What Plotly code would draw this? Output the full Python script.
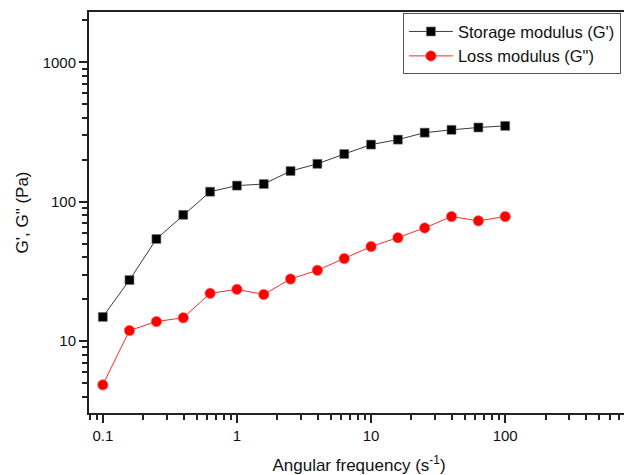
import plotly.graph_objects as go

freq = [0.1, 0.158, 0.251, 0.398, 0.631, 1.0, 1.585, 2.51, 3.98, 6.31,
        10.0, 15.85, 25.1, 39.8, 63.1, 100.0]
storage = [14.9, 27.4, 54.0, 80.5, 118, 130.5, 134, 166, 187, 220,
           257, 279, 313, 328, 341, 350]
loss = [4.85, 11.9, 13.8, 14.7, 22.0, 23.5, 21.6, 27.9, 32.2, 39.1,
        47.7, 55.2, 64.9, 78.3, 72.9, 78.3]

x_major = [0.1, 1, 10, 100]
x_major_text = ["0.1", "1", "10", "100"]
y_major = [10, 100, 1000]
y_major_text = ["10", "100", "1000"]

x_minor = [m * d for d in [0.01, 0.1, 1, 10, 100] for m in range(2, 10)]
y_minor = [m * d for d in [1, 10, 100, 1000] for m in range(2, 10)]

FONT = "Liberation Sans, Arial, sans-serif"

fig = go.Figure()
fig.add_trace(go.Scatter(
    x=freq, y=storage, mode="lines+markers", name="Storage modulus (G')",
    line=dict(color="#3a3a3a", width=1),
    marker=dict(symbol="square", size=9, color="black",
                line=dict(color="#777777", width=0.6)),
))
fig.add_trace(go.Scatter(
    x=freq, y=loss, mode="lines+markers", name='Loss modulus (G")',
    line=dict(color="#ff2a2a", width=1),
    marker=dict(symbol="circle", size=10.5, color="#ff0000",
                line=dict(color="#ff8080", width=0.6)),
))

axis_common = dict(
    type="log", showgrid=False, zeroline=False,
    showline=True, linecolor="#222222", linewidth=2, mirror=True,
    ticks="outside", ticklen=8, tickwidth=2, tickcolor="#222222",
    tickfont=dict(family=FONT, size=15, color="#111111"),
)

fig.update_xaxes(
    **axis_common,
    range=[-1.103, 2.923],
    tickvals=x_major, ticktext=x_major_text,
    minor=dict(tickvals=x_minor, ticks="outside", ticklen=5, tickwidth=1.5,
               tickcolor="#222222", showgrid=False),
    title=dict(text="Angular frequency (s<sup>-1</sup>)",
               font=dict(family=FONT, size=17, color="#111111"), standoff=18),
)
fig.update_yaxes(
    **axis_common,
    range=[0.4837, 3.3615],
    tickvals=y_major, ticktext=y_major_text,
    minor=dict(tickvals=y_minor, ticks="outside", ticklen=5, tickwidth=1.5,
               tickcolor="#222222", showgrid=False),
    title=dict(text='G\', G" (Pa)',
               font=dict(family=FONT, size=17, color="#111111"), standoff=10),
)

fig.update_layout(
    width=624, height=467,
    margin=dict(l=81, r=1, t=4, b=57),
    paper_bgcolor="white", plot_bgcolor="white",
    showlegend=True,
    legend=dict(
        x=0.985, y=0.997, xanchor="right", yanchor="top",
        bgcolor="white", bordercolor="#555555", borderwidth=1,
        font=dict(family=FONT, size=16.5, color="#111111"),
        itemwidth=44, tracegroupgap=0,
    ),
)

fig.write_html("out.html")
